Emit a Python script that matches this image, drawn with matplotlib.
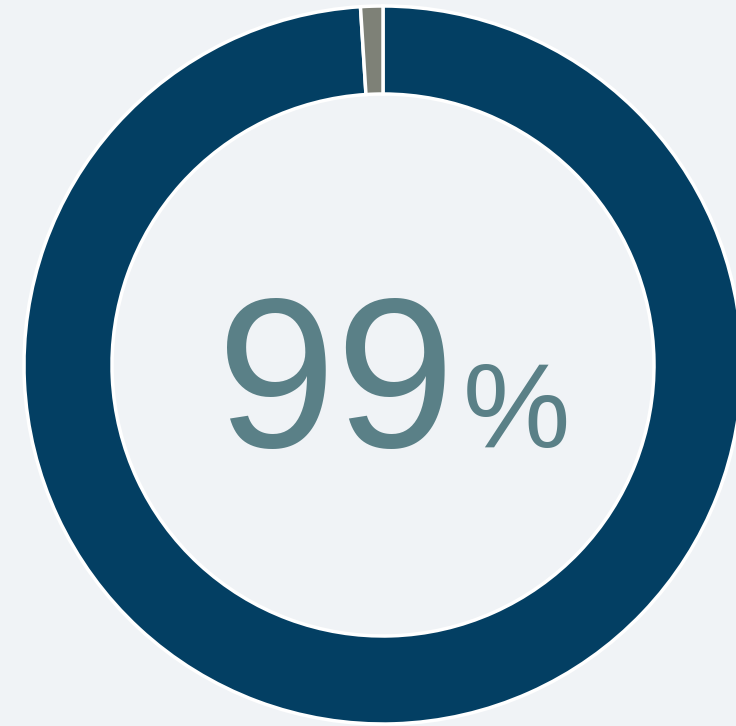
import matplotlib

matplotlib.use("Agg")
import matplotlib.pyplot as plt

# share of the ring: main value vs remainder
labels = ["yes", "other"]
shares = [99, 1]
colors = ["#033f63", "#7e8177"]
big_text = "99"
unit_text = "%"

W, H = 736, 726
bg = "#f0f3f6"
fig = plt.figure(figsize=(W / 100, H / 100), dpi=100)
fig.patch.set_facecolor(bg)
ax = fig.add_axes([0, 0, 1, 1])
ax.set_facecolor(bg)

cx, cy, r_out, ring = 383, H - 365, 359, 88
ax.pie(
    shares,
    colors=colors,
    startangle=90,
    counterclock=False,
    center=(cx, cy),
    radius=r_out,
    frame=True,
    wedgeprops=dict(width=ring, edgecolor="white", linewidth=2.5),
)
ax.set_xlim(0, W)
ax.set_ylim(0, H)
ax.set_aspect("equal")
ax.axis("off")

base_y = H - 447
ax.text(455, base_y, big_text, ha="right", va="baseline",
        fontsize=154, color="#5a8087", family="Liberation Sans")
ax.text(463, base_y, unit_text, ha="left", va="baseline",
        fontsize=87, color="#5a8087", family="Liberation Sans")

fig.savefig("out.png", dpi=100, facecolor=fig.get_facecolor())
